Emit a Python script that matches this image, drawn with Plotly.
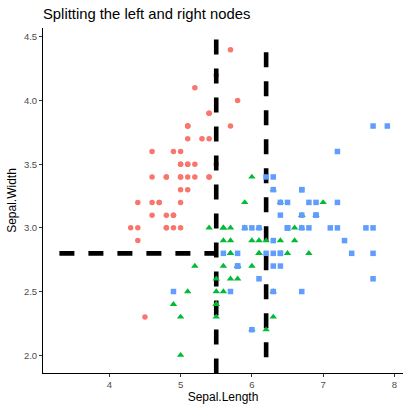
import plotly.graph_objects as go

setosa_x = [5.1,4.9,4.7,4.6,5.0,5.4,4.6,5.0,4.4,4.9,5.4,4.8,4.8,4.3,5.8,5.7,5.4,5.1,5.7,5.1,5.4,5.1,4.6,5.1,4.8,5.0,5.0,5.2,5.2,4.7,4.8,5.4,5.2,5.5,4.9,5.0,5.5,4.9,4.4,5.1,5.0,4.5,4.4,5.0,5.1,4.8,5.1,4.6,5.3,5.0]
setosa_y = [3.5,3.0,3.2,3.1,3.6,3.9,3.4,3.4,2.9,3.1,3.7,3.4,3.0,3.0,4.0,4.4,3.9,3.5,3.8,3.8,3.4,3.7,3.6,3.3,3.4,3.0,3.4,3.5,3.4,3.2,3.1,3.4,4.1,4.2,3.1,3.2,3.5,3.6,3.0,3.4,3.5,2.3,3.2,3.5,3.8,3.0,3.8,3.2,3.7,3.3]
versicolor_x = [7.0,6.4,6.9,5.5,6.5,5.7,6.3,4.9,6.6,5.2,5.0,5.9,6.0,6.1,5.6,6.7,5.6,5.8,6.2,5.6,5.9,6.1,6.3,6.1,6.4,6.6,6.8,6.7,6.0,5.7,5.5,5.5,5.8,6.0,5.4,6.0,6.7,6.3,5.6,5.5,5.5,6.1,5.8,5.0,5.6,5.7,5.7,6.2,5.1,5.7]
versicolor_y = [3.2,3.2,3.1,2.3,2.8,2.8,3.3,2.4,2.9,2.7,2.0,3.0,2.2,2.9,2.9,3.1,3.0,2.7,2.2,2.5,3.2,2.8,2.5,2.8,2.9,3.0,2.8,3.0,2.9,2.6,2.4,2.4,2.7,2.7,3.0,3.4,3.1,2.3,3.0,2.5,2.6,3.0,2.6,2.3,2.7,3.0,2.9,2.9,2.5,2.8]
virginica_x = [6.3,5.8,7.1,6.3,6.5,7.6,4.9,7.3,6.7,7.2,6.5,6.4,6.8,5.7,5.8,6.4,6.5,7.7,7.7,6.0,6.9,5.6,7.7,6.3,6.7,7.2,6.2,6.1,6.4,7.2,7.4,7.9,6.4,6.3,6.1,7.7,6.3,6.4,6.0,6.9,6.7,6.9,5.8,6.8,6.7,6.7,6.3,6.5,6.2,5.9]
virginica_y = [3.3,2.7,3.0,2.9,3.0,3.0,2.5,2.9,2.5,3.6,3.2,2.7,3.0,2.5,2.8,3.2,3.0,3.8,2.6,2.2,3.2,2.8,2.8,2.7,3.3,3.2,2.8,3.0,2.8,3.0,2.8,3.8,2.8,2.8,2.6,3.0,3.4,3.1,3.0,3.1,3.1,3.1,2.7,3.2,3.3,3.0,2.5,3.0,3.4,3.0]

# split segments (drawn in the order given)
h_split_x = [3.3, 5.5]
h_split_y = [2.8, 2.8]
left_split_x = [5.5, 5.5]
left_split_y = [4.48, 1.86]
right_split_x = [6.2, 6.2]
right_split_y = [4.38, 1.98]

fig = go.Figure()
fig.add_trace(go.Scatter(x=setosa_x, y=setosa_y, mode="markers",
                         marker=dict(symbol="circle", size=5.5, color="#F8766D"), showlegend=False))
for xs, ys in [(h_split_x, h_split_y), (left_split_x, left_split_y), (right_split_x, right_split_y)]:
    fig.add_trace(go.Scatter(x=xs, y=ys, mode="lines",
                             line=dict(color="black", width=4.6, dash="15px,14px"), showlegend=False))
fig.add_trace(go.Scatter(x=versicolor_x, y=versicolor_y, mode="markers",
                         marker=dict(symbol="triangle-up", size=6.5, color="#00BA38"), showlegend=False))
fig.add_trace(go.Scatter(x=virginica_x, y=virginica_y, mode="markers",
                         marker=dict(symbol="square", size=5.5, color="#619CFF"), showlegend=False))

axis_common = dict(showgrid=False, zeroline=False, showline=True, linecolor="black", linewidth=1,
                   ticks="outside", ticklen=3, tickcolor="#333333",
                   tickfont=dict(family="Liberation Sans, Arial, sans-serif", size=9.5, color="#4D4D4D"),
                   title_font=dict(family="Liberation Sans, Arial, sans-serif", size=12, color="black"))
fig.update_layout(
    width=403, height=404,
    margin=dict(l=43, r=0, t=28, b=31),
    paper_bgcolor="white", plot_bgcolor="white",
    title=dict(text="Splitting the left and right nodes", x=43/403, xanchor="left", xref="container",
               y=1-13.5/404, yanchor="middle", yref="container",
               font=dict(family="Liberation Sans, Arial, sans-serif", size=14.8, color="black")),
    xaxis=dict(range=[3.07, 8.12], tickvals=[4, 5, 6, 7, 8], ticktext=["4", "5", "6", "7", "8"],
               title=dict(text="Sepal.Length", standoff=2), **axis_common),
    yaxis=dict(range=[1.86, 4.57], tickvals=[2.0, 2.5, 3.0, 3.5, 4.0, 4.5],
               ticktext=["2.0", "2.5", "3.0", "3.5", "4.0", "4.5"],
               title=dict(text="Sepal.Width", standoff=4), **axis_common),
)
fig.write_html("out.html", config={"displayModeBar": False},
               post_script="document.body.style.margin='0';document.body.style.padding='0';")
